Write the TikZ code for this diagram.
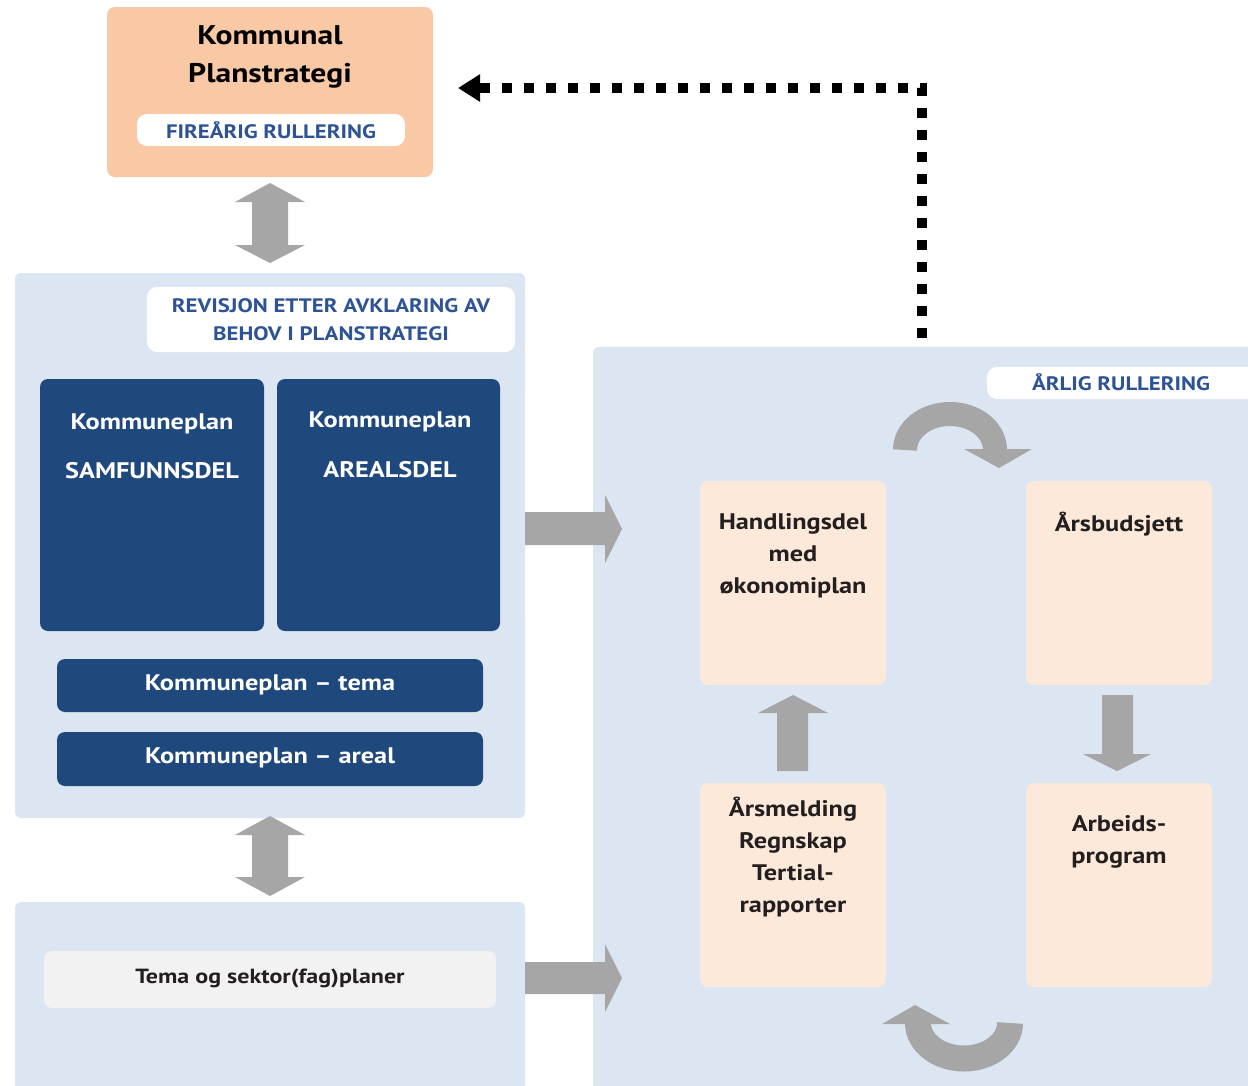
\documentclass[tikz,border=0pt]{standalone}
\usepackage{fontspec}
\setmainfont{PT Sans}[FakeStretch=1.17]
\usetikzlibrary{arrows.meta}
\definecolor{orangebg}{RGB}{249,200,165}
\definecolor{lightbluebg}{RGB}{220,230,242}
\definecolor{darkblue}{RGB}{31,73,125}
\definecolor{peach}{RGB}{253,233,217}
\definecolor{arrowgray}{RGB}{166,166,166}
\definecolor{labelblue}{RGB}{46,83,149}
\definecolor{pillgray}{RGB}{242,242,242}
\definecolor{textdark}{RGB}{35,31,32}
\begin{document}
\begin{tikzpicture}[x=1pt,y=-1pt,
  boxbase/.style={inner sep=0pt, rounded corners=8pt, draw=none},
  orangebox/.style={boxbase, fill=orangebg},
  bluebg/.style={boxbase, fill=lightbluebg, rounded corners=6pt},
  darkbox/.style={boxbase, fill=darkblue},
  peachbox/.style={boxbase, fill=peach},
  whitepill/.style={boxbase, fill=white, rounded corners=10pt},
  greypill/.style={boxbase, fill=pillgray, rounded corners=8pt},
  titletext/.style={font=\fontsize{27}{38}\selectfont\bfseries, text=black, align=center, inner sep=0pt},
  labeltext/.style={font=\fontsize{19.5}{28}\selectfont\bfseries, text=labelblue, align=center, inner sep=0pt},
  darktext/.style={font=\fontsize{22.5}{30}\selectfont\bfseries, text=white, align=center, inner sep=0pt},
  peachtext/.style={font=\fontsize{22.5}{32}\selectfont\bfseries, text=textdark, align=center, inner sep=0pt},
  pilltext/.style={font=\fontsize{20.5}{26}\selectfont\bfseries, text=textdark, inner sep=0pt},
  garrow/.style={fill=arrowgray, draw=none},
  gcurve/.style={draw=arrowgray, line cap=butt},
  dotline/.style={draw=black, line width=10pt, dash pattern=on 10pt off 12pt, -{Triangle[length=22pt,width=26pt]}}
]
\useasboundingbox (0,0) rectangle (1248,1085);
\fill[white] (0,0) rectangle (1248,1085);

% top box
\node[orangebox, minimum width=326pt, minimum height=170pt] (top) at (270,92) {};
\node[titletext] (toptitle) at (270,57) {Kommunal\\Planstrategi};
\node[whitepill, minimum width=268pt, minimum height=32pt] (toppill) at (271,130) {};
\node[labeltext] (toplabel) at (271,130) {FIREÅRIG RULLERING};

% left upper box
\node[bluebg, minimum width=510pt, minimum height=545pt] (leftbox) at (270,545.5) {};
\node[whitepill, minimum width=368pt, minimum height=65pt] (revpill) at (331,319.5) {};
\node[labeltext] (revlabel) at (331,320) {REVISJON ETTER AVKLARING AV\\BEHOV I PLANSTRATEGI};
\node[darkbox, minimum width=224pt, minimum height=252pt] (samf) at (152,505) {};
\node[darktext] (samf1) at (152,424) {Kommuneplan};
\node[darktext] (samf2) at (152,471) {SAMFUNNSDEL};
\node[darkbox, minimum width=223pt, minimum height=252pt] (areal) at (388.5,505) {};
\node[darktext] (areal1) at (390,422) {Kommuneplan};
\node[darktext] (areal2) at (390,470) {AREALSDEL};
\node[darkbox, minimum width=426pt, minimum height=53pt] (tema) at (270,685.5) {};
\node[darktext] (tematext) at (270,685) {Kommuneplan – tema};
\node[darkbox, minimum width=426pt, minimum height=54pt] (arealb) at (270,759) {};
\node[darktext] (arealbtext) at (270,758) {Kommuneplan – areal};

% left lower box
\node[bluebg, minimum width=510pt, minimum height=198pt] (lowbox) at (270,1001) {};
\node[greypill, minimum width=452pt, minimum height=57pt] (sektor) at (270,979.5) {};
\node[pilltext] (sektortext) at (270,978) {Tema og sektor(fag)planer};

% right box
\node[bluebg, minimum width=667pt, minimum height=753pt] (rightbox) at (926.5,723.5) {};
\node[whitepill, minimum width=273pt, minimum height=32pt] (aarpill) at (1123.5,383) {};
\node[labeltext] (aarlabel) at (1121,382) {ÅRLIG RULLERING};

\node[peachbox, minimum width=186pt, minimum height=204pt] (hand) at (793,583) {};
\node[peachtext] (handtext) at (793,556) {Handlingsdel\\med\\økonomiplan};
\node[peachbox, minimum width=186pt, minimum height=204pt] (budsjett) at (1119,583) {};
\node[peachtext] (budsjetttext) at (1119,524) {Årsbudsjett};
\node[peachbox, minimum width=186pt, minimum height=204pt] (melding) at (793,885) {};
\node[peachtext] (meldingtext) at (793,857.5) {Årsmelding\\Regnskap\\Tertial-\\rapporter};
\node[peachbox, minimum width=186pt, minimum height=204pt] (arbeid) at (1119,885) {};
\node[peachtext] (arbeidtext) at (1119,841.5) {Arbeids-\\program};

% grey double arrows
\fill[garrow] (270,183) -- (305,202) -- (288,202) -- (288,245) -- (305,245) -- (270,263)
  -- (235,245) -- (252,245) -- (252,202) -- (235,202) -- cycle;
\fill[garrow] (270,816) -- (305,835) -- (288,835) -- (288,877) -- (305,877) -- (270,896)
  -- (235,877) -- (252,877) -- (252,835) -- (235,835) -- cycle;

% grey right arrows
\fill[garrow] (525,512) -- (605,512) -- (605,495) -- (622,529) -- (605,563) -- (605,545) -- (525,545) -- cycle;
\fill[garrow] (525,962) -- (605,962) -- (605,944) -- (622,978) -- (605,1012) -- (605,994) -- (525,994) -- cycle;

% up / down arrows
\fill[garrow] (777,771) -- (777,713) -- (758,713) -- (793,695) -- (828,713) -- (808,713) -- (808,771) -- cycle;
\fill[garrow] (1102,695) -- (1133,695) -- (1133,754) -- (1151,754) -- (1117,771) -- (1083,754) -- (1102,754) -- cycle;

% curved arrows
\draw[gcurve, line width=24pt] (905,450) .. controls (905,430) and (925,414) .. (950,414)
  .. controls (975,414) and (995,430) .. (995,450);
\fill[garrow] (964,449) -- (1032,449) -- (999,468) -- cycle;
\draw[gcurve, line width=26pt] (1010,1023) .. controls (1010,1043) and (989,1058.5) .. (964,1058.5)
  .. controls (939,1058.5) and (918,1043) .. (918,1023);
\fill[garrow] (882,1024) -- (950,1024) -- (915,1005) -- cycle;

% dotted feedback line
\coordinate (dotstart) at (922,338);
\coordinate (dotend) at (458,88);
\draw[dotline] (dotstart) |- (dotend);
\end{tikzpicture}
\end{document}
